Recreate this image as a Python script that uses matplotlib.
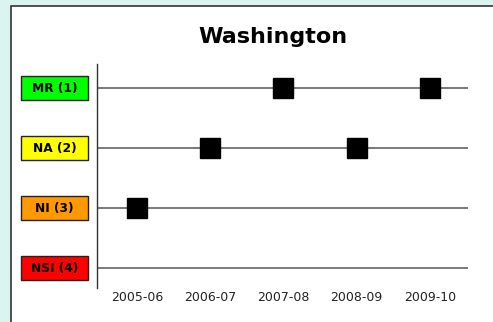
import matplotlib
matplotlib.use("Agg")
import matplotlib.pyplot as plt
import matplotlib.transforms as mtransforms
from matplotlib.patches import Rectangle

# data
years = ["2005-06", "2006-07", "2007-08", "2008-09", "2009-10"]
levels = [3, 2, 1, 2, 1]
level_names = ["MR (1)", "NA (2)", "NI (3)", "NSI (4)"]
level_colors = ["#00ff00", "#ffff00", "#ff9900", "#ff0000"]
title = "Washington"

W, H = 493, 322
fig = plt.figure(figsize=(W / 100, H / 100), dpi=100)
fig.patch.set_facecolor("#dcf4f0")

# white panel with dark left/top border
panel = Rectangle((11 / W, -0.1), 1.2, 1 - 6 / H + 0.1, transform=fig.transFigure,
                  facecolor="white", edgecolor="#333333", linewidth=1.2, zorder=-10)
fig.patches.append(panel)

ax = fig.add_axes([97 / W, 1 - 288 / H, (468 - 97) / W, (288 - 64) / H])
ax.set_facecolor("none")
ax.set_zorder(2)

x = list(range(len(years)))
for i in range(len(level_names)):
    ax.axhline(i + 1, color="#555555", linewidth=1.1, zorder=1)

ax.plot(x, levels, linestyle="none", marker="s", markersize=14.5,
        color="black", zorder=3)

ax.set_xlim(-0.546, 4.52)
ax.set_ylim(4.33, 0.6)

for side in ["top", "right", "bottom"]:
    ax.spines[side].set_visible(False)
ax.spines["left"].set_color("#333333")
ax.spines["left"].set_linewidth(1.0)

ax.set_yticks([])
ax.set_xticks(x)
ax.set_xticklabels(years, fontsize=9, color="#222222")
ax.tick_params(axis="x", length=0, pad=2)

# level boxes to the left of the axis
trans = mtransforms.blended_transform_factory(ax.transAxes, ax.transData)
for i, (name, col) in enumerate(zip(level_names, level_colors)):
    y = i + 1
    ax.add_patch(Rectangle((-0.2049, y - 0.2), 0.1806, 0.4, transform=trans,
                           facecolor=col, edgecolor="#222222", linewidth=1.0,
                           clip_on=False, zorder=4))
    ax.text(-0.1146, y, name, transform=trans, ha="center", va="center",
            fontsize=8.8, fontweight="bold", color="black", zorder=5)

fig.text(273 / W, 1 - 37 / H, title, ha="center", va="center",
         fontsize=16, fontweight="bold", color="black")

fig.savefig("out.png", dpi=100, facecolor=fig.get_facecolor())
